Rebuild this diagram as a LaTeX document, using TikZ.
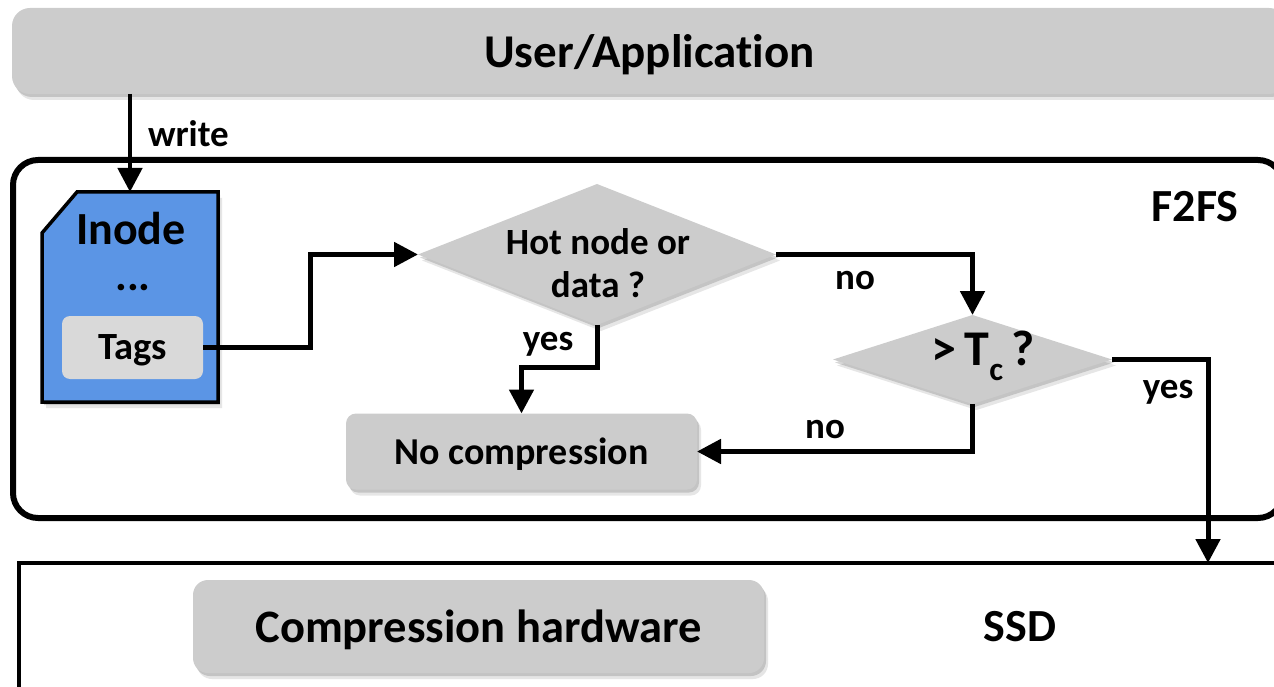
\documentclass[tikz,border=0pt]{standalone}
\usepackage{fontspec}
\setmainfont{Carlito}[Ligatures=NoCommon]
\usetikzlibrary{shadows,arrows.meta,calc,shapes.geometric}
\definecolor{boxgray}{HTML}{CCCCCC}
\definecolor{taggray}{HTML}{D9D9D9}
\definecolor{inodeblue}{HTML}{5B95E5}
\tikzset{
  txt/.style={inner sep=0pt, outer sep=0pt, font=\bfseries\fontsize{#1}{#1}\selectfont},
  softshadow/.style={
    drop shadow={shadow xshift=2pt, shadow yshift=-3pt, opacity=.22, fill=black!70},
    drop shadow={shadow xshift=4pt, shadow yshift=-6pt, opacity=.14, fill=black!70}},
  graybox/.style={rounded corners=10pt, fill=boxgray, softshadow, inner sep=0pt, outer sep=0pt, text depth=0pt},
  dia/.style={diamond, fill=boxgray, inner sep=0pt, outer sep=0pt, softshadow},
  flow/.style={line width=5pt, -{Triangle[length=24pt,width=24pt]}},
}
\begin{document}
\begin{tikzpicture}[x=1pt,y=-1pt]
\useasboundingbox (0,0) rectangle (1274,687);
\clip (0,0) rectangle (1274,687);

% application layer (kern keeps "t" and "i" as separate glyphs)
\node[graybox, rounded corners=18pt, minimum width=1275pt, minimum height=86pt, txt=47]
  (app) at (649.5,51) {User/Applicat\kern0pt ion};

% file system frame
\node[draw, line width=6pt, rounded corners=25pt, minimum width=1270pt, minimum height=358pt]
  (f2fs) at (648,339) {};
\node[txt=46] (f2fslbl) at (1195,207) {F2FS};

% device frame
\node[draw, line width=4.5pt, fill=white, minimum width=1281pt, minimum height=147pt]
  (ssd) at (659.5,636.5) {};
\node[graybox, rounded corners=15pt, minimum width=571pt, minimum height=93pt, txt=46.5]
  (hw) at (478.5,626.5) {Compression hardware};
\node[txt=46] (ssdlbl) at (1020,627) {SSD};

% inode with its tags
\node[minimum width=176pt, minimum height=210pt, inner sep=0pt, outer sep=0pt] (inode) at (130,297) {};
\filldraw[fill=inodeblue, line width=3.5pt, line join=miter, softshadow]
  (inode.south west) -- ($(inode.north west)+(0,41)$) -- ($(inode.north west)+(35,0)$)
  -- (inode.north east) -- (inode.south east) -- cycle;
\node[txt=46] (inodet) at (131,229) {Inode};
\node[txt=44] (dots) at (133,288) {...};
\node[rounded corners=8pt, fill=taggray, minimum width=141pt, minimum height=63pt, inner sep=0pt, text depth=0pt, txt=38.5]
  (tags) at (132.5,347.5) {Tags};

% decisions
\node[dia, minimum width=358pt, minimum height=141pt] (d1) at (597,254.5) {};
\node[txt=37, font=\bfseries\fontsize{37}{43}\selectfont, align=center] (d1t) at (598,263) {Hot node or\\data ?};
\node[dia, minimum width=279pt, minimum height=89pt] (d2) at (972.5,359.5) {};
\node[txt=50] (d2t) at (983,356) {>\,T\raisebox{-0.3em}{\fontsize{33}{33}\selectfont c}\,?};

\node[graybox, minimum width=351pt, minimum height=76pt, txt=38] (nocomp) at (521.5,451.5) {No compression};

% connectors
\coordinate (hwin) at (1208,563);
\draw[flow, line width=4.5pt] (inode.north |- app.south) -- (inode.north);
\node[txt=37, anchor=west] (wlbl) at (148,134) {write};
\draw[flow] (tags.east) -- ++(107,0) |- (d1.west);
\draw[flow] (d1.east) -| (d2.north);
\node[txt=37] (no1) at (855,281) {no};
\draw[flow] (d1.south) -- ++(0,42) -| (nocomp.north);
\node[txt=37] (yes1) at (548,344) {yes};
\draw[flow] (d2.south) |- (nocomp.east);
\node[txt=37] (no2) at (825,430) {no};
\draw[flow] (d2.east) -| (hwin);
\node[txt=37] (yes2) at (1168,392) {yes};
\end{tikzpicture}
\end{document}
